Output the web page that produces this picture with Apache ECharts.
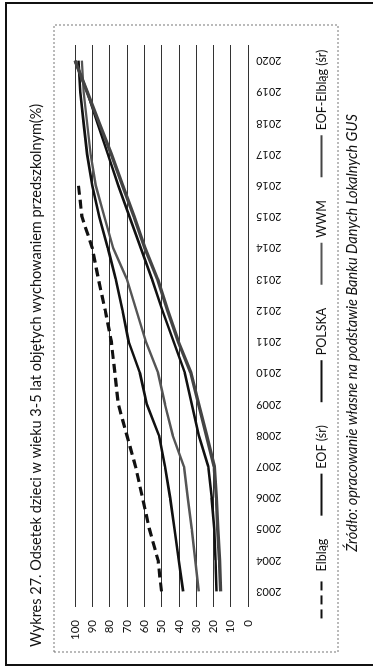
<!DOCTYPE html>
<html>
<head>
<meta charset="utf-8">
<script src="https://cdn.jsdelivr.net/npm/echarts@6/dist/echarts.min.js"></script>
<style>
  html, body { margin: 0; padding: 0; background: #fff; overflow: hidden; }
  body { width: 373px; height: 669px; position: relative; }
  /* the figure is laid out landscape and turned a quarter to fit the portrait page */
  #chart {
    position: absolute; left: 0; top: 0;
    width: 669px; height: 373px;
    transform-origin: 0 0;
    transform: translateY(669px) rotate(-90deg);
  }
</style>
</head>
<body>
<div id="chart"></div>
<script>
const years = ['2003','2004','2005','2006','2007','2008','2009','2010','2011','2012',
               '2013','2014','2015','2016','2017','2018','2019','2020'];
const valueTicks = { min: 0, max: 100, interval: 10 };

const elblag      = [50, 52, 57, 61, 65, 70, 75, 77, 79, 82.5, 86.5, 90, 96, 98, null, null, null, null];
const eofSr       = [18.2, 18.8, 19.5, 21, 23, 28.5, 32.5, 36.5, 43, 49.5, 55.5, 62, 68.5, 75, 81, 87, 93, 100];
const polska      = [37.5, 40, 42.5, 45, 48, 51.5, 58.5, 62.5, 69, 72.5, 76.5, 81, 86, 90, 93, 95, 97, 98];
const wwm         = [28.5, 30.5, 32.5, 34.8, 37, 43.5, 48, 52, 59, 64.5, 70, 78, 83, 88, 91, 93, 95, 96];
const eofElblagSr = [15.8, 16.5, 17.5, 18.3, 19.5, 24, 28.5, 33, 40.3, 46.5, 52.3, 59.6, 65.8, 72.5, 79, 86, 93, 100];

const titleText  = 'Wykres 27. Odsetek dzieci w wieku 3-5 lat objętych wychowaniem przedszkolnym(%)';
const sourceText = 'Źródło: opracowanie własne na podstawie Banku Danych Lokalnych GUS';
const legendNames = ['Elbląg', 'EOF (śr)', 'POLSKA', 'WWM', 'EOF-Elbląg (śr)'];

const FONT = 'Lato, "Open Sans", sans-serif';
const chart = echarts.init(document.getElementById('chart'), null, { width: 669, height: 373, renderer: 'canvas' });

function line(name, data, color, width, type) {
  return {
    name, type: 'line', data, symbol: 'none', smooth: false, connectNulls: false,
    lineStyle: { color, width, type: type || 'solid' },
    itemStyle: { color },
    emphasis: { disabled: true }
  };
}

chart.setOption({
  animation: false,
  backgroundColor: '#fff',
  title: {
    text: titleText, left: 17, top: 24,
    textStyle: { fontFamily: FONT, fontSize: 14.5, fontWeight: 'normal', color: '#111' }
  },
  grid: { left: 62, top: 75, width: 562, height: 173, containLabel: false },
  xAxis: {
    type: 'category', data: years, boundaryGap: true,
    axisLine: { show: false }, axisTick: { show: false },
    axisLabel: { rotate: 90, margin: 8, fontFamily: FONT, fontSize: 11, color: '#111' }
  },
  yAxis: {
    type: 'value', min: valueTicks.min, max: valueTicks.max, interval: valueTicks.interval,
    axisLine: { show: false }, axisTick: { show: false },
    axisLabel: { margin: 13, fontFamily: FONT, fontSize: 11.5, color: '#111' },
    splitLine: { show: true, lineStyle: { color: '#333', width: 1 } }
  },
  legend: {
    data: legendNames, left: 'center', top: 310, width: 640, itemGap: 22, itemWidth: 42, itemHeight: 10,
    itemStyle: { opacity: 0 },
    textStyle: { fontFamily: FONT, fontSize: 12.5, color: '#111' }
  },
  series: [
    line('Elbląg', elblag, '#111', 3.2, [9, 5]),
    line('EOF (śr)', eofSr, '#111', 2.6),
    line('POLSKA', polska, '#111', 2.6),
    line('WWM', wwm, '#555', 2.4),
    line('EOF-Elbląg (śr)', eofElblagSr, '#444', 3.4)
  ],
  graphic: [
    { type: 'rect', shape: { x: 4, y: 6, width: 662, height: 380 }, style: { fill: null, stroke: '#111', lineWidth: 2 }, silent: true },
    { type: 'rect', shape: { x: 17, y: 54, width: 627, height: 284 }, style: { fill: null, stroke: '#777', lineWidth: 1, lineDash: [2, 2] }, silent: true },
    { type: 'text', x: 336, y: 352, style: { text: sourceText, align: 'center', verticalAlign: 'middle', font: 'italic 14.5px ' + FONT, fill: '#111' }, silent: true }
  ]
});
</script>
</body>
</html>
